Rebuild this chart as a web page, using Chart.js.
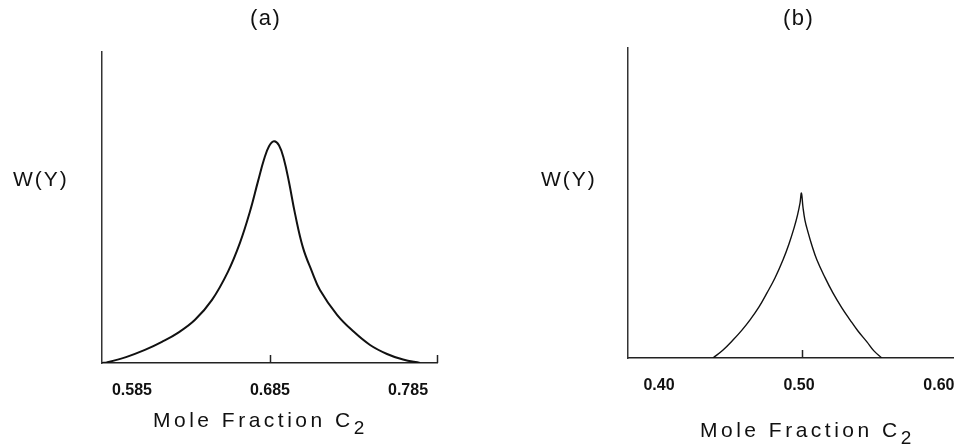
<!DOCTYPE html>
<html>
<head>
<meta charset="utf-8">
<script src="https://cdn.jsdelivr.net/npm/chart.js@4/dist/chart.umd.min.js"></script>
<style>
  html, body { margin: 0; padding: 0; background: #fff; }
  body { width: 954px; height: 448px; overflow: hidden; position: relative; font-family: "Liberation Sans", Arial, sans-serif; color: #111; }
  canvas { position: absolute; top: 0; }
  #chartA { left: 0; }
  #chartB { left: 500px; }
  .lbl { position: absolute; white-space: nowrap; line-height: 1; }
  .panel { font-size: 22px; letter-spacing: 1.5px; top: 7px; }
  .wy { font-size: 21px; letter-spacing: 2px; top: 168px; }
  .xt { font-size: 21px; letter-spacing: 3.5px; }
  .xt span { position: relative; top: 7px; font-size: 19px; }
</style>
</head>
<body>
<canvas id="chartA" width="477" height="448"></canvas>
<canvas id="chartB" width="500" height="448"></canvas>

<div class="lbl panel" style="left:250px">(a)</div>
<div class="lbl panel" style="left:783px">(b)</div>
<div class="lbl wy" style="left:13px">W(Y)</div>
<div class="lbl wy" style="left:541px">W(Y)</div>
<div class="lbl xt" style="left:153px; top:409px">Mole Fraction C<span>2</span></div>
<div class="lbl xt" style="left:700px; top:419px">Mole Fraction C<span>2</span></div>

<script>
// panel (a)
const moleA = [0.5633, 0.5669, 0.5807, 0.5944, 0.6067, 0.6183, 0.6307, 0.6430, 0.6546, 0.6633, 0.6705, 0.6763, 0.6807, 0.6843, 0.6879, 0.6915, 0.6951, 0.6988, 0.7031, 0.7089, 0.7154, 0.7212, 0.7336, 0.7451, 0.7575, 0.7698, 0.7814, 0.7937];
const wA = [0, 0.002, 0.019, 0.042, 0.068, 0.097, 0.139, 0.203, 0.294, 0.387, 0.487, 0.584, 0.655, 0.697, 0.713, 0.700, 0.655, 0.581, 0.481, 0.371, 0.294, 0.235, 0.155, 0.103, 0.058, 0.029, 0.011, 0];
const ticksA = [0.585, 0.685, 0.785];
const upTicksA = [0.685, 0.806];
const rangeA = [0.5633, 0.806];

// panel (b)
const moleB = [0.4364, 0.4436, 0.4507, 0.4571, 0.4629, 0.4693, 0.4750, 0.4807, 0.4864, 0.4907, 0.4943, 0.4968, 0.4986, 0.4996,
               0.5007, 0.5021, 0.5043, 0.5071, 0.5107, 0.5164, 0.5221, 0.5286, 0.5343, 0.5400, 0.5464, 0.5514, 0.5571];
const wB = [0, 0.026, 0.058, 0.090, 0.123, 0.165, 0.210, 0.258, 0.316, 0.368, 0.419, 0.461, 0.500, 0.532,
            0.487, 0.445, 0.406, 0.363, 0.316, 0.260, 0.210, 0.161, 0.123, 0.087, 0.052, 0.023, 0];
const ticksB = [0.40, 0.50, 0.60];
const upTicksB = [0.50];
const rangeB = [0.3757, 0.6129];

// small upward tick marks sitting on the x axis
const upTickPlugin = {
    id: 'upTicks',
    afterDraw(chart, args, opts) {
        const ctx = chart.ctx;
        const xs = chart.scales.x, ys = chart.scales.y;
        const y0 = ys.getPixelForValue(0);
        ctx.save();
        ctx.strokeStyle = '#222';
        ctx.lineWidth = 1.5;
        (opts.values || []).forEach(v => {
            const px = Math.round(xs.getPixelForValue(v)) + 0.5;
            ctx.beginPath();
            ctx.moveTo(px, y0);
            ctx.lineTo(px, y0 - 8);
            ctx.stroke();
        });
        ctx.restore();
    }
};

function makeChart(id, mole, w, ticks, upTicks, range, decimals, lineW, tension, yWidth, xHeight, padTop, labelShift) {
    return new Chart(document.getElementById(id), {
        type: 'line',
        data: {
            datasets: [{
                data: mole.map((m, i) => ({ x: m, y: w[i] })),
                borderColor: '#111',
                borderWidth: lineW,
                pointRadius: 0,
                tension: tension,
                fill: false
            }]
        },
        options: {
            responsive: false,
            animation: false,
            devicePixelRatio: 1,
            layout: { padding: { top: padTop, right: 40, left: 0, bottom: 0 } },
            plugins: {
                legend: { display: false },
                tooltip: { enabled: false },
                upTicks: { values: upTicks }
            },
            scales: {
                x: {
                    type: 'linear',
                    min: range[0],
                    max: range[1],
                    afterBuildTicks: s => { s.ticks = ticks.map(v => ({ value: v })); },
                    afterFit: s => { s.height = xHeight; },
                    grid: { display: false, drawTicks: false },
                    border: { display: true, color: '#222', width: 1.5 },
                    ticks: {
                        padding: 18,
                        autoSkip: false,
                        maxRotation: 0,
                        labelOffset: labelShift,
                        color: '#111',
                        font: { family: 'Liberation Sans', size: 16, weight: 'bold' },
                        callback: v => Number(v).toFixed(decimals)
                    }
                },
                y: {
                    min: 0,
                    max: 1,
                    afterFit: s => { s.width = yWidth; },
                    grid: { display: false, drawTicks: false },
                    border: { display: true, color: '#333', width: 1.5 },
                    ticks: { display: false }
                }
            }
        },
        plugins: [upTickPlugin]
    });
}

makeChart('chartA', moleA, wA, ticksA, upTicksA, rangeA, 3, 2, 0.4, 102, 85, 52, 0);
makeChart('chartB', moleB, wB, ticksB, upTicksB, rangeB, 2, 1.4, 0.4, 128, 90, 48, -3);
</script>
</body>
</html>
